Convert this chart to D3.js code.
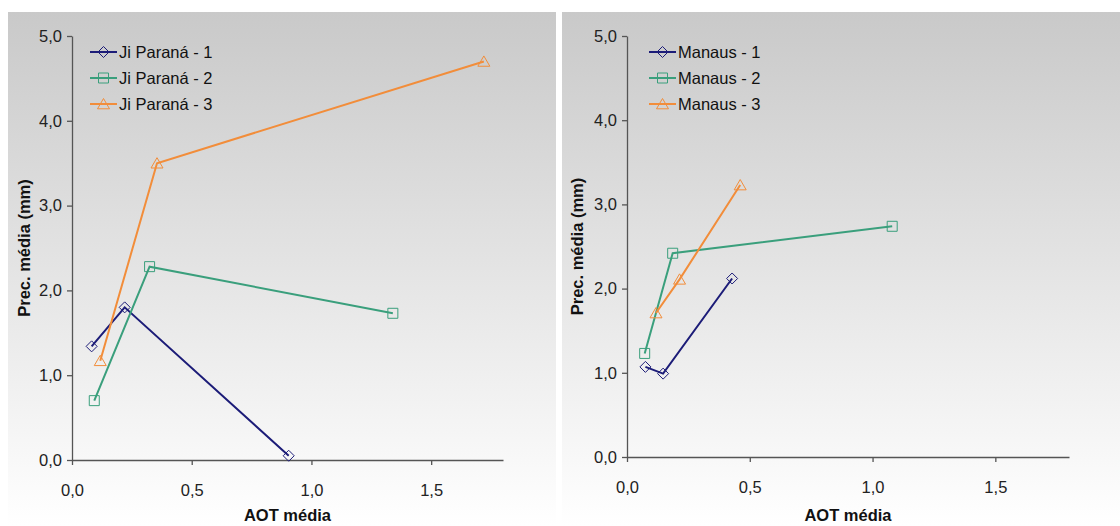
<!DOCTYPE html>
<html><head><meta charset="utf-8">
<script src="https://cdn.jsdelivr.net/npm/d3@7"></script>
<style>
html,body{margin:0;padding:0;background:#fff;}
svg{display:block;font-family:"Liberation Sans",Arial,sans-serif;}
</style></head>
<body><svg id="chart" width="1120" height="526"></svg>
<script>
// ---- Data ----
const xTicks = [0, 0.5, 1.0, 1.5];
const yTicks = [0, 1, 2, 3, 4, 5];
const xTitle = "AOT média";
const yTitle = "Prec. média (mm)";

const leftNames = ["Ji Paraná - 1", "Ji Paraná - 2", "Ji Paraná - 3"];
const jp1X = [0.082, 0.22, 0.905];
const jp1Y = [1.34, 1.80, 0.05];
const jp2X = [0.093, 0.324, 1.34];
const jp2Y = [0.70, 2.28, 1.73];
const jp3X = [0.118, 0.355, 1.72];
const jp3Y = [1.17, 3.50, 4.70];

const rightNames = ["Manaus - 1", "Manaus - 2", "Manaus - 3"];
const ma1X = [0.075, 0.147, 0.428];
const ma1Y = [1.07, 0.99, 2.12];
const ma2X = [0.072, 0.186, 1.08];
const ma2Y = [1.23, 2.42, 2.74];
const ma3X = [0.118, 0.214, 0.461];
const ma3Y = [1.71, 2.11, 3.23];

const colors = ["#1c1c78", "#3a9f7c", "#f28d3a"];
// custom marker shapes
const markerPaths = [
  "M0,-5.5L5.5,0L0,5.5L-5.5,0Z",
  "M-5,-5H5V5H-5Z",
  "M0,-5.5L6,4.8H-6Z"
];

const svg = d3.select("#chart");
const defs = svg.append("defs");
const grad = defs.append("linearGradient").attr("id","bg").attr("x1",0).attr("y1",0).attr("x2",0).attr("y2",1);
grad.append("stop").attr("offset","0%").attr("stop-color","#c9c9c9");
grad.append("stop").attr("offset","100%").attr("stop-color","#ffffff");

const FS = 16.5;
function fmt(d){ return d3.format(".1f")(d).replace(".",","); }

function panel(cfg){
  svg.append("rect").attr("x",cfg.bx).attr("y",12).attr("width",cfg.bw).attr("height",526-12).attr("fill","url(#bg)");
  const x = d3.scaleLinear().domain([0,1.8]).range([cfg.x0, cfg.x1]);
  const y = d3.scaleLinear().domain([0,5]).range([cfg.y0, cfg.y1]);
  const g = svg.append("g");
  const xa = g.append("g").attr("transform",`translate(0,${cfg.y0})`)
    .call(d3.axisBottom(x).tickValues(xTicks).tickSize(5).tickPadding(19).tickSizeOuter(0).tickFormat(fmt));
  const ya = g.append("g").attr("transform",`translate(${cfg.x0},0)`)
    .call(d3.axisLeft(y).tickValues(yTicks).tickSize(5).tickPadding(5).tickSizeOuter(0).tickFormat(fmt));
  [xa,ya].forEach(a=>{
    a.select(".domain").attr("stroke","#555").attr("stroke-width",1.3);
    a.selectAll(".tick line").attr("stroke","#555").attr("stroke-width",1.3);
    a.selectAll(".tick text").attr("font-size",FS).attr("fill","#222").attr("font-family","Liberation Sans, Arial, sans-serif");
  });
  g.append("text").attr("x",(cfg.x0+cfg.x1)/2).attr("y",521).attr("text-anchor","middle")
    .attr("font-size",FS).attr("font-weight","bold").attr("fill","#111").text(xTitle);
  g.append("text").attr("transform",`translate(${cfg.ytx},${(cfg.y0+cfg.y1)/2}) rotate(-90)`)
    .attr("text-anchor","middle").attr("font-size",FS).attr("font-weight","bold").attr("fill","#111").text(yTitle);

  const line = d3.line().x(d=>x(d[0])).y(d=>y(d[1]));
  cfg.series.forEach((s,i)=>{
    const pts = s.xs.map((v,k)=>[v,s.ys[k]]);
    g.append("path").datum(pts).attr("d",line).attr("fill","none").attr("stroke",colors[i]).attr("stroke-width",2);
    g.selectAll(null).data(pts).enter().append("path")
      .attr("d",markerPaths[i])
      .attr("transform",d=>`translate(${x(d[0])},${y(d[1])})`)
      .attr("fill","none").attr("stroke",colors[i]).attr("stroke-width",1);
  });
  // legend
  cfg.names.forEach((n,i)=>{
    const ly = 52 + i*26;
    g.append("line").attr("x1",cfg.lx).attr("x2",cfg.lx+27).attr("y1",ly).attr("y2",ly).attr("stroke",colors[i]).attr("stroke-width",2);
    g.append("path").attr("d",markerPaths[i])
      .attr("transform",`translate(${cfg.lx+13.5},${ly})`).attr("fill","none").attr("stroke",colors[i]).attr("stroke-width",1);
    g.append("text").attr("x",cfg.lx+29).attr("y",ly+6).attr("font-size",FS).attr("fill","#111").text(n);
  });
}

panel({bx:8, bw:548, x0:72, x1:503, y0:460, y1:36, ytx:30, lx:90, names:leftNames,
  series:[{xs:jp1X,ys:jp1Y},{xs:jp2X,ys:jp2Y},{xs:jp3X,ys:jp3Y}]});
panel({bx:562, bw:558, x0:627, x1:1069, y0:457, y1:36, ytx:583, lx:649, names:rightNames,
  series:[{xs:ma1X,ys:ma1Y},{xs:ma2X,ys:ma2Y},{xs:ma3X,ys:ma3Y}]});
</script></body></html>
